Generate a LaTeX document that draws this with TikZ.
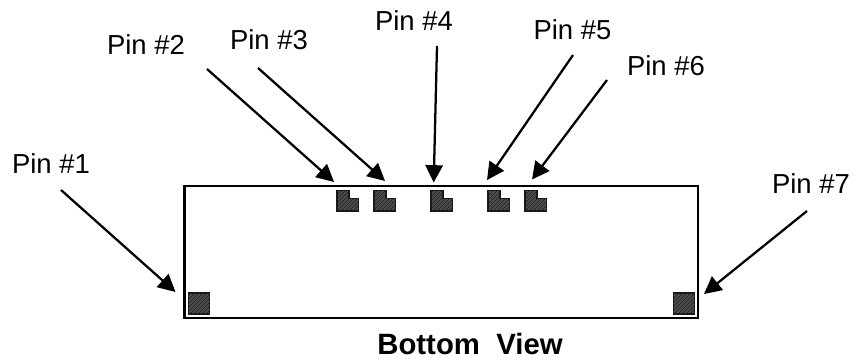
\documentclass[tikz,border=0pt]{standalone}
\usepackage{fontspec}
\setmainfont{Liberation Sans}
\usetikzlibrary{arrows.meta,patterns}
\tikzset{
    pinlabel/.style={font=\fontsize{20.6}{24}\selectfont,inner sep=0pt},
    pinarrow/.style={line width=1.7pt,-{Triangle[length=13pt,width=13pt]}},
    pinpad/.style={draw=black!90,line width=1.1pt,fill=black!70,postaction={pattern=north east lines,pattern color=black!88}}
}
\begin{document}
\begin{tikzpicture}[x=0.75pt,y=-0.75pt]
    \useasboundingbox (0,0) rectangle (867,360);
    \draw [line width=1.6pt](184.5,186) rectangle (698,318);
    % notched pads along the top edge
    \foreach \px in {337,374,431,488,525}
        \draw [pinpad](\px,190.5)-|++(12,8)-|++(9.5,12.5)-|cycle;
    % square pads in the corners
    \draw [pinpad](188.5,293) rectangle (209.5,314);
    \draw [pinpad](673.5,293) rectangle (694.5,314);
    \node [pinlabel] (pinone) at (51,164) {Pin \#1};
    \node [pinlabel] (pintwo) at (146,45) {Pin \#2};
    \node [pinlabel] (pinthree) at (269,40) {Pin \#3};
    \node [pinlabel] (pinfour) at (414,20.5) {Pin \#4};
    \node [pinlabel] (pinfive) at (572.5,29.5) {Pin \#5};
    \node [pinlabel] (pinsix) at (666,66) {Pin \#6};
    \node [pinlabel] (pinseven) at (811,184) {Pin \#7};
    \node [pinlabel,font=\fontsize{22}{26}\selectfont\bfseries] (title) at (470,344.5) {Bottom\ \ View};
    \coordinate (a) at (61,190); \coordinate (atip) at (175.5,292);
    \coordinate (b) at (207,69); \coordinate (btip) at (334,182);
    \coordinate (c) at (258,68); \coordinate (ctip) at (385,181);
    \coordinate (d) at (437,46); \coordinate (dtip) at (433.7,182.5);
    \coordinate (e) at (573,55); \coordinate (etip) at (487,180);
    \coordinate (f) at (607,80); \coordinate (ftip) at (532,179.5);
    \coordinate (g) at (807,211); \coordinate (gtip) at (704,294);
    \foreach \from/\to in {a/atip,b/btip,c/ctip,d/dtip,e/etip,f/ftip,g/gtip}
        \draw [pinarrow](\from)--(\to);
\end{tikzpicture}
\end{document}
